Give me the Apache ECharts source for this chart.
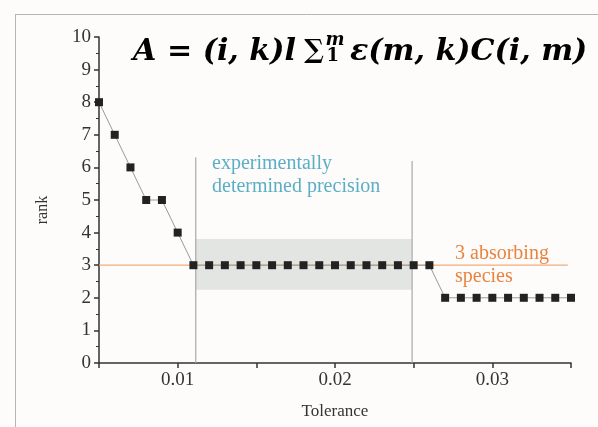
<!DOCTYPE html>
<html>
<head>
<meta charset="utf-8">
<script src="https://cdn.jsdelivr.net/npm/echarts@6/dist/echarts.min.js"></script>
<style>
html,body{margin:0;padding:0;background:#fdfcfb;}
#c{width:598px;height:427px;}
</style>
</head>
<body>
<div id="c"></div>
<script>
const tolerance = [0.005,0.006,0.007,0.008,0.009,0.010,0.011,0.012,0.013,0.014,0.015,0.016,0.017,0.018,0.019,0.020,0.021,0.022,0.023,0.024,0.025,0.026,0.027,0.028,0.029,0.030,0.031,0.032,0.033,0.034,0.035];
const rank = [8,7,6,5,5,4,3,3,3,3,3,3,3,3,3,3,3,3,3,3,3,3,2,2,2,2,2,2,2,2,2];
const precisionBounds = [0.01115, 0.0249];
const precisionBand = [2.25, 3.8];
const boundTops = [6.3, 6.2];
const speciesRank = 3;
const speciesLineX = [0.005, 0.0348];
const xTicks = [0.01, 0.02, 0.03];

const chart = echarts.init(document.getElementById('c'));
const serif = 'Liberation Serif';
const pts = tolerance.map((t, i) => [t, rank[i]]);

// formula layout by text measurement
const ctx = document.createElement('canvas').getContext('2d');
function w(text, font) { ctx.font = font; return ctx.measureText(text).width; }
const fLeft = 133, fRight = 587;
let fs = 32;
const p1 = 'A = (i, k)l', p3 = 'ε(m, k)C(i, m)';
function fonts(s) {
  return {
    main: 'italic bold ' + s + 'px "DejaVu Serif"',
    sum: 'bold ' + Math.round(s * 0.85) + 'px "DejaVu Serif"',
    small: 'italic bold ' + Math.round(s * 0.6) + 'px "DejaVu Serif"',
    smallUp: 'bold ' + Math.round(s * 0.6) + 'px "DejaVu Serif"'
  };
}
function layout(s) {
  const f = fonts(s);
  const w1 = w(p1, f.main), ws = w('∑', f.sum), wm = Math.max(w('m', f.small), w('1', f.smallUp)), w3 = w(p3, f.main);
  const g1 = s * 0.28, g2 = s * 0.05, g3 = s * 0.18;
  return {f, w1, ws, wm, w3, g1, g2, g3, total: w1 + g1 + ws + g2 + wm + g3 + w3};
}
let L = layout(fs);
fs = fs * (fRight - fLeft) / L.total;
L = layout(fs);
const xSum = fLeft + L.w1 + L.g1;
const xSup = xSum + L.ws + L.g2;
const xP3 = xSup + L.wm + L.g3;

const refLine = (data, color, z) => ({
  type: 'line', data: data, silent: true, z: z, symbol: 'none',
  lineStyle: {color: color, width: 1.2, type: 'solid'},
  emphasis: {disabled: true}
});

chart.setOption({
  backgroundColor: '#fdfcfb',
  animation: false,
  grid: {left: 99, right: 27, top: 37, bottom: 64},
  xAxis: {
    type: 'value', min: 0.005, max: 0.035, interval: 0.005,
    axisLine: {lineStyle: {color: '#333', width: 1.5}},
    axisTick: {show: true, length: 5, lineStyle: {color: '#333', width: 1.5}},
    splitLine: {show: false},
    axisLabel: {
      fontFamily: serif, fontSize: 19, color: '#333', margin: 8,
      formatter: v => xTicks.some(t => Math.abs(t - v) < 1e-9) ? v.toFixed(2) : ''
    },
    name: 'Tolerance', nameLocation: 'middle', nameGap: 40,
    nameTextStyle: {fontFamily: serif, fontSize: 17, color: '#333'}
  },
  yAxis: {
    type: 'value', min: 0, max: 10, interval: 1,
    axisLine: {show: true, lineStyle: {color: '#333', width: 1.5}},
    axisTick: {show: true, length: 5, lineStyle: {color: '#333', width: 1.5}},
    minorTick: {show: true, splitNumber: 2, length: 3, lineStyle: {color: '#333', width: 1}},
    splitLine: {show: false},
    axisLabel: {fontFamily: serif, fontSize: 19, color: '#333', margin: 8}
  },
  series: [
    {
      type: 'line', data: [], silent: true, z: 1,
      markArea: {
        silent: true,
        itemStyle: {color: '#e3e5e2'},
        data: [[{coord: [precisionBounds[0], precisionBand[0]]}, {coord: [precisionBounds[1], precisionBand[1]]}]]
      }
    },
    refLine(speciesLineX.map(x => [x, speciesRank]), '#f0ad7c', 2),
    refLine([[precisionBounds[0], 0], [precisionBounds[0], boundTops[0]]], '#a8a8a8', 2),
    refLine([[precisionBounds[1], 0], [precisionBounds[1], boundTops[1]]], '#a8a8a8', 2),
    {
      type: 'line', data: pts, z: 3,
      symbol: 'rect', symbolSize: 8,
      itemStyle: {color: '#222'},
      lineStyle: {color: '#999', width: 1}
    }
  ],
  graphic: [
    {type: 'line', shape: {x1: 15.5, y1: 14, x2: 15.5, y2: 427}, style: {stroke: '#b5b5b5', lineWidth: 1}},
    {type: 'line', shape: {x1: 15, y1: 14.5, x2: 598, y2: 14.5}, style: {stroke: '#b5b5b5', lineWidth: 1}},
    {type: 'text', x: 43, y: 210, rotation: Math.PI / 2,
     style: {text: 'rank', font: '16px "Liberation Serif"', fill: '#333', align: 'center', verticalAlign: 'middle'}},
    {type: 'text', x: 212, y: 152,
     style: {text: 'experimentally\ndetermined precision', font: '20px "Liberation Serif"', lineHeight: 23, fill: '#5aaec6', align: 'left', verticalAlign: 'top'}},
    {type: 'text', x: 455, y: 242,
     style: {text: '3 absorbing\nspecies', font: '20px "Liberation Serif"', lineHeight: 23, fill: '#e8843f', align: 'left', verticalAlign: 'top'}},
    {type: 'text', x: fLeft, y: 52,
     style: {text: p1, font: L.f.main, fill: '#000', align: 'left', verticalAlign: 'middle'}},
    {type: 'text', x: xSum, y: 51,
     style: {text: '∑', font: L.f.sum, fill: '#000', align: 'left', verticalAlign: 'middle'}},
    {type: 'text', x: xSup, y: 40,
     style: {text: 'm', font: L.f.small, fill: '#000', align: 'left', verticalAlign: 'middle'}},
    {type: 'text', x: xSup + 1, y: 56,
     style: {text: '1', font: L.f.smallUp, fill: '#000', align: 'left', verticalAlign: 'middle'}},
    {type: 'text', x: xP3, y: 52,
     style: {text: p3, font: L.f.main, fill: '#000', align: 'left', verticalAlign: 'middle'}}
  ]
});
</script>
</body>
</html>
